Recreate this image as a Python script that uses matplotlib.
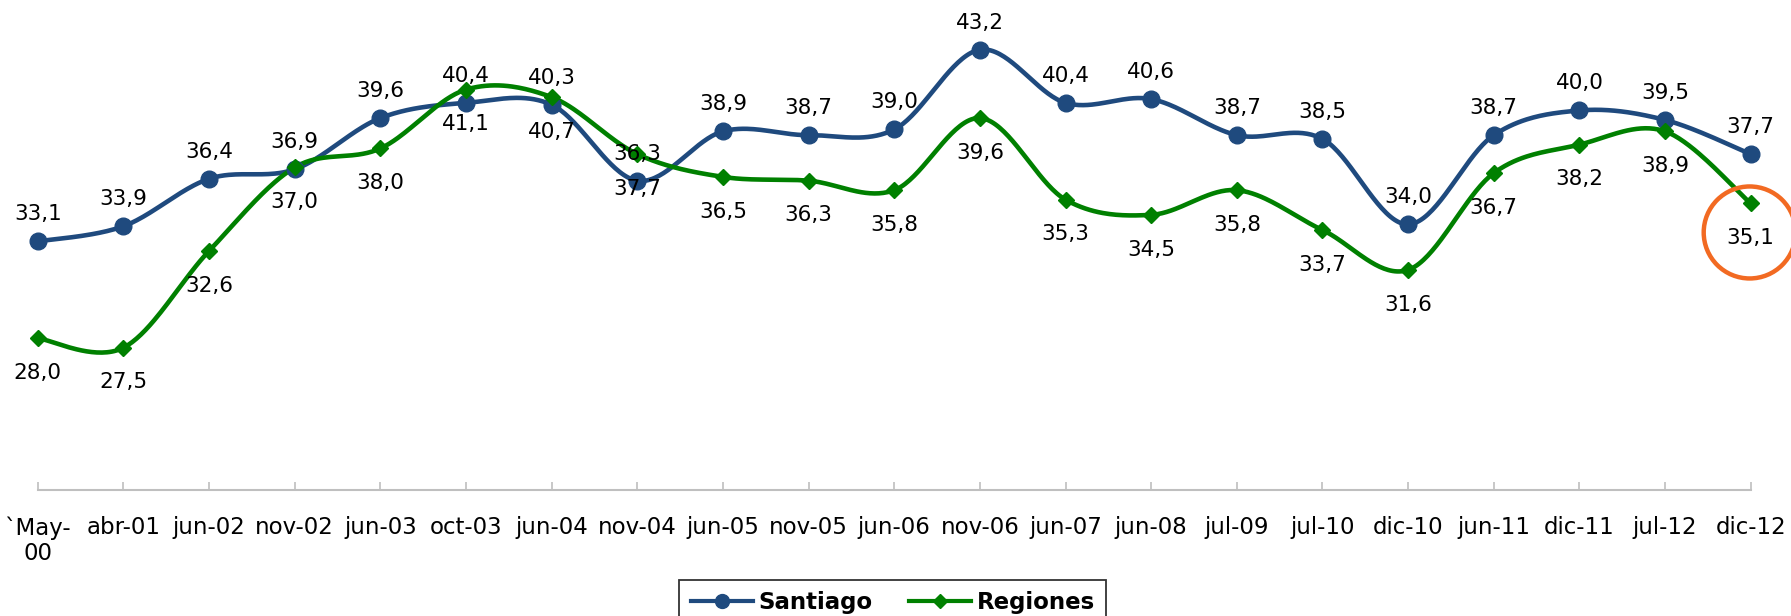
import numpy as np
import matplotlib
matplotlib.use("Agg")
import matplotlib.pyplot as plt
from matplotlib.patches import Circle
from matplotlib.lines import Line2D
import matplotlib.transforms as mtransforms

categories = ["`May-\n00", "abr-01", "jun-02", "nov-02", "jun-03", "oct-03", "jun-04",
              "nov-04", "jun-05", "nov-05", "jun-06", "nov-06", "jun-07", "jun-08",
              "jul-09", "jul-10", "dic-10", "jun-11", "dic-11", "jul-12", "dic-12"]
santiago = [33.1, 33.9, 36.4, 36.9, 39.6, 40.4, 40.3, 36.3, 38.9, 38.7, 39.0, 43.2,
            40.4, 40.6, 38.7, 38.5, 34.0, 38.7, 40.0, 39.5, 37.7]
regiones = [28.0, 27.5, 32.6, 37.0, 38.0, 41.1, 40.7, 37.7, 36.5, 36.3, 35.8, 39.6,
            35.3, 34.5, 35.8, 33.7, 31.6, 36.7, 38.2, 38.9, 35.1]

BLUE = "#1F4A7E"
GREEN = "#008000"
ORANGE = "#F26A22"


def smooth(xs, ys, n=40):
    """Excel-like smoothed line (Catmull-Rom Bezier) through the points."""
    xs = np.asarray(xs, float)
    ys = np.asarray(ys, float)
    px, py = [], []
    N = len(xs)
    for i in range(N - 1):
        i0 = max(i - 1, 0)
        i3 = min(i + 2, N - 1)
        p0 = np.array([xs[i], ys[i]])
        p3 = np.array([xs[i + 1], ys[i + 1]])
        c1 = p0 + (np.array([xs[i + 1], ys[i + 1]]) - np.array([xs[i0], ys[i0]])) / 6.0
        c2 = p3 - (np.array([xs[i3], ys[i3]]) - np.array([xs[i], ys[i]])) / 6.0
        t = np.linspace(0, 1, n)[:, None]
        pts = ((1 - t) ** 3) * p0 + 3 * ((1 - t) ** 2) * t * c1 + 3 * (1 - t) * t ** 2 * c2 + t ** 3 * p3
        if i > 0:
            pts = pts[1:]
        px.extend(pts[:, 0])
        py.extend(pts[:, 1])
    return np.array(px), np.array(py)


plt.rcParams['font.family'] = ['DejaVu Sans']
fig = plt.figure(figsize=(17.91, 6.16), dpi=100)
ax = fig.add_axes([0.0211, 0.2045, 0.9775 - 0.0211, 0.9747 - 0.2045])

x = np.arange(len(categories))

for ys, col, mk, ms in [(santiago, BLUE, 'o', 12), (regiones, GREEN, 'D', 8.5)]:
    sx, sy = smooth(x, ys)
    ax.plot(sx, sy, color=col, lw=3.3, solid_capstyle='round', clip_on=False, zorder=3)
    ax.plot(x, ys, linestyle='none', marker=mk, ms=ms, color=col, mec=col, clip_on=False, zorder=4)

for xi, v in zip(x, santiago):
    ax.annotate(f"{v:.1f}".replace('.', ','), (xi, v), xytext=(0, 19.5), textcoords='offset points',
                ha='center', va='center', fontsize=15.5, color='black', zorder=5)
for xi, v in zip(x, regiones):
    ax.annotate(f"{v:.1f}".replace('.', ','), (xi, v), xytext=(0, -25), textcoords='offset points',
                ha='center', va='center', fontsize=15.5, color='black', zorder=5)

# orange highlight circle around the last Regiones label
trans = (mtransforms.Affine2D().scale(46).translate(-1, -29)
         + mtransforms.ScaledTranslation(x[-1], regiones[-1], ax.transData))
circ = Circle((0, 0), 1.0, transform=trans, fill=False, edgecolor=ORANGE, lw=3.2,
              clip_on=False, zorder=6)
fig.patches.append(circ)
circ.set_figure(fig)

ax.set_xlim(0, len(categories) - 1)
ax.set_ylim(20, 45)
ax.set_xticks(x)
ax.set_xticklabels(categories, fontsize=16.5, linespacing=1.1)
ax.set_yticks([])
for s in ['top', 'right', 'left']:
    ax.spines[s].set_visible(False)
ax.spines['bottom'].set_color('#BFBFBF')
ax.spines['bottom'].set_linewidth(1.5)
ax.tick_params(axis='x', direction='in', length=5.5, width=1.2, color='#BFBFBF', pad=19)

handles = [Line2D([], [], color=BLUE, lw=3, marker='o', ms=10),
           Line2D([], [], color=GREEN, lw=3, marker='D', ms=7.5)]
leg = fig.legend(handles, ["Santiago", "Regiones"], loc='upper center',
                 bbox_to_anchor=(0.4985, 1 - 580 / 616), ncol=2, frameon=True, fancybox=False,
                 prop={'weight': 'bold', 'size': 16.5}, handlelength=2.7, handletextpad=0.25,
                 columnspacing=1.6, borderpad=0.5, borderaxespad=0)
leg.get_frame().set_edgecolor('black')
leg.get_frame().set_linewidth(1.3)

fig.savefig("out.png", dpi=100)
